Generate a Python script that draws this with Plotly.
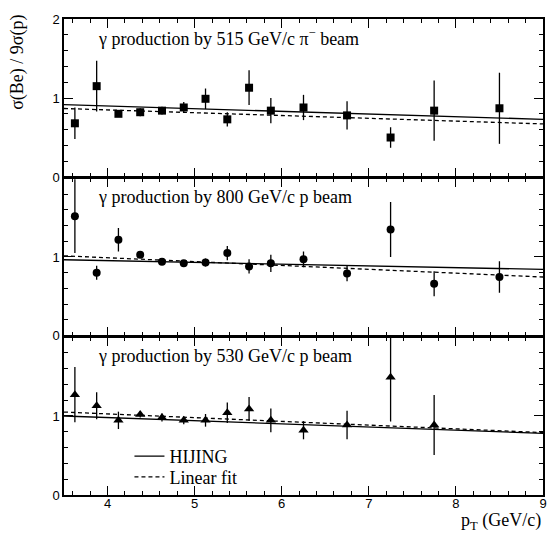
import plotly.graph_objects as go

# ---- data ----
pt = [3.625, 3.875, 4.125, 4.375, 4.625, 4.875, 5.125, 5.375, 5.625, 5.875, 6.25, 6.75, 7.25, 7.75, 8.5]

pim515_y = [0.68, 1.15, 0.80, 0.82, 0.84, 0.88, 0.99, 0.73, 1.13, 0.84, 0.88, 0.78, 0.50, 0.84, 0.87]
pim515_e = [0.20, 0.32, 0.04, 0.05, 0.05, 0.07, 0.13, 0.09, 0.22, 0.16, 0.16, 0.18, 0.13, 0.38, 0.45]

p800_y = [1.52, 0.80, 1.22, 1.03, 0.94, 0.92, 0.93, 1.05, 0.88, 0.92, 0.97, 0.79, 1.35, 0.66, 0.745]
p800_e = [0.47, 0.09, 0.15, 0.04, 0.04, 0.04, 0.05, 0.09, 0.09, 0.11, 0.10, 0.10, 0.35, 0.16, 0.20]

pt530 = pt[:14]
p530_y = [1.27, 1.13, 0.945, 1.02, 0.98, 0.945, 0.945, 1.04, 1.09, 0.945, 0.82, 0.887, 1.49, 0.887]
p530_e = [0.35, 0.17, 0.11, 0.04, 0.05, 0.05, 0.08, 0.13, 0.15, 0.15, 0.115, 0.18, 0.56, 0.38]

line_x = [3.5, 9.0]
hij_1 = [0.915, 0.73]
fit_1 = [0.867, 0.672]
hij_2 = [0.965, 0.842]
fit_2 = [1.015, 0.745]
hij_3 = [1.0, 0.78]
fit_3 = [1.05, 0.79]

panel_labels = ["γ production by 515 GeV/c π<sup>−</sup> beam",
                "γ production by 800 GeV/c p beam",
                "γ production by 530 GeV/c p beam"]
x_ticks = [4, 5, 6, 7, 8, 9]
y_ticks = [0, 1, 2]

# ---- figure ----
SERIF = "Liberation Serif"
SANS = "Liberation Sans"
fig = go.Figure()

panels = [
    (pt, pim515_y, pim515_e, "square", 8, hij_1, fit_1),
    (pt, p800_y, p800_e, "circle", 8, hij_2, fit_2),
    (pt530, p530_y, p530_e, "triangle-up", 9, hij_3, fit_3),
]
for i, (xs, ys, es, sym, sz, hij, fit) in enumerate(panels):
    ax = "" if i == 0 else str(i + 1)
    last = (i == 2)
    fig.add_trace(go.Scatter(
        x=line_x, y=hij, mode="lines", xaxis="x" + ax, yaxis="y" + ax,
        line=dict(color="black", width=1.3), name="HIJING", showlegend=last,
        legend="legend"))
    fig.add_trace(go.Scatter(
        x=line_x, y=fit, mode="lines", xaxis="x" + ax, yaxis="y" + ax,
        line=dict(color="black", width=1.3, dash="4px,3px"), name="Linear fit", showlegend=last,
        legend="legend2"))
    fig.add_trace(go.Scatter(
        x=xs, y=ys, mode="markers", xaxis="x" + ax, yaxis="y" + ax,
        marker=dict(symbol=sym, size=sz, color="black"),
        error_y=dict(type="data", array=es, visible=True, color="black", thickness=1.3, width=0),
        showlegend=False))

top, bottom = 13, 495
H = bottom - top
px_domains = [(13, 173), (174.5, 333.5), (335, 495)]
leg_common = dict(xanchor="left", yanchor="middle", bgcolor="rgba(0,0,0,0)",
                  font=dict(family=SERIF, size=18, color="black"), itemwidth=30)
layout = dict(
    width=559, height=533,
    margin=dict(l=64, r=12, t=13, b=38),
    plot_bgcolor="white", paper_bgcolor="white",
    showlegend=True,
    legend=dict(x=(130 - 64) / 483, y=(bottom - 456) / H, **leg_common),
    legend2=dict(x=(130 - 64) / 483, y=(bottom - 477) / H, **leg_common),
)
annotations = []
for i, (a, b) in enumerate(px_domains):
    ax = "" if i == 0 else str(i + 1)
    dom = [(bottom - b) / H, (bottom - a) / H]
    common = dict(showline=True, linecolor="black", linewidth=1.5, mirror="allticks",
                  ticks="inside", ticklen=9, tickwidth=1, tickcolor="black",
                  showgrid=False, zeroline=False)
    fig_xaxis = dict(range=[3.5, 9], domain=[0, 1], anchor="y" + ax,
                     tickvals=x_ticks, showticklabels=(i == 2),
                     ticklabelstandoff=-4,
                     tickfont=dict(family=SANS, size=13, color="black"),
                     minor=dict(dtick=0.2, tick0=3.6, ticks="inside", ticklen=4, tickcolor="black"),
                     **common)
    fig_yaxis = dict(range=[0, 2], domain=dom, anchor="x" + ax,
                     tickvals=y_ticks,
                     ticktext=["0", "1", "2" if i == 0 else ""],
                     tickfont=dict(family=SANS, size=13, color="black"),
                     minor=dict(dtick=0.2, tick0=0, ticks="inside", ticklen=4, tickcolor="black"),
                     **common)
    layout["xaxis" + ax] = fig_xaxis
    layout["yaxis" + ax] = fig_yaxis
    annotations.append(dict(
        text=panel_labels[i], xref="x" + ax + " domain", yref="y" + ax + " domain",
        x=0.066, y=1 - 19 / 160, xanchor="left", yanchor="middle", showarrow=False,
        font=dict(family=SERIF, size=18, color="black")))

annotations.append(dict(text="σ(Be) / 9σ(p)", xref="paper", yref="paper",
                        x=(17 - 64) / 483, y=(bottom - 57) / H, textangle=-90,
                        xanchor="center", yanchor="middle", showarrow=False,
                        font=dict(family=SERIF, size=18, color="black")))
annotations.append(dict(text="p<sub>T</sub> (GeV/c)", xref="paper", yref="paper",
                        x=1.0, y=(bottom - 522) / H, xanchor="right", yanchor="middle",
                        showarrow=False, font=dict(family=SERIF, size=18, color="black")))
layout["annotations"] = annotations
fig.update_layout(**layout)
fig.write_html("out.html")
